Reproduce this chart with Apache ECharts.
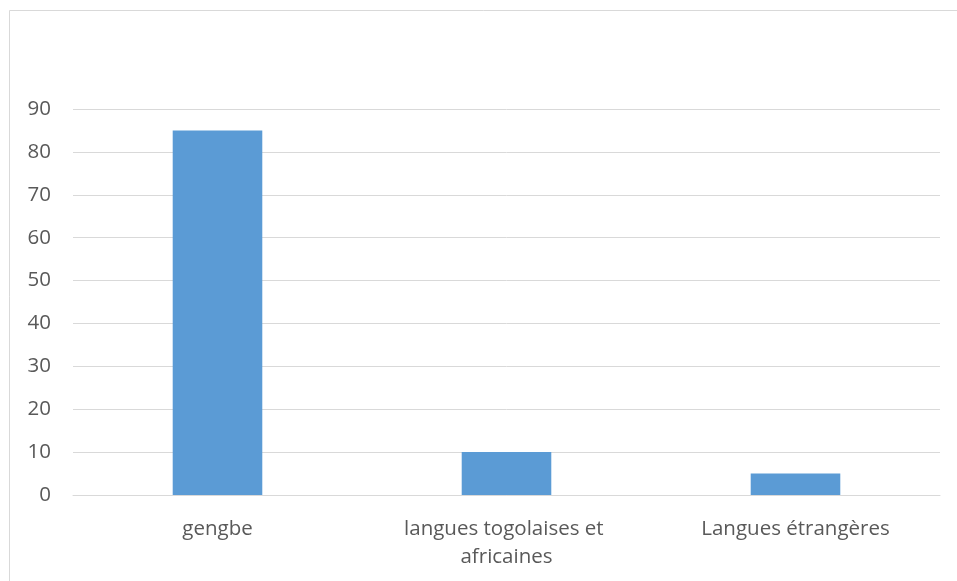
<!DOCTYPE html>
<html>
<head>
<meta charset="utf-8">
<script src="https://cdn.jsdelivr.net/npm/echarts@6/dist/echarts.min.js"></script>
<style>
  html, body { margin: 0; padding: 0; background: #fff; }
  #chart { width: 957px; height: 581px; }
</style>
</head>
<body>
<div id="chart"></div>
<script>
// Language categories and their share (%)
const categories = ['gengbe', 'langues togolaises et africaines', 'Langues étrangères'];
const values = [85, 10, 5];
const yTicks = { min: 0, max: 90, interval: 10 };

const textColor = '#595959';
const gridColor = '#d9d9d9';
const fontFamily = '"Open Sans", sans-serif';

const chart = echarts.init(document.getElementById('chart'), null, { renderer: 'canvas' });

chart.setOption({
  animation: false,
  backgroundColor: '#ffffff',
  graphic: [{
    type: 'rect',
    shape: { x: 9.5, y: 10.5, width: 1000, height: 700 },
    style: { fill: 'none', stroke: gridColor, lineWidth: 1 },
    silent: true
  }],
  grid: { left: 73, right: 17, top: 109, bottom: 86, containLabel: false },
  xAxis: {
    type: 'category',
    data: categories,
    axisLine: { show: true, lineStyle: { color: gridColor, width: 1 } },
    axisTick: { show: false },
    axisLabel: {
      color: textColor,
      fontFamily: fontFamily,
      fontSize: 20.5,
      lineHeight: 28,
      margin: 20,
      interval: 0,
      width: 250,
      overflow: 'break'
    }
  },
  yAxis: {
    type: 'value',
    min: yTicks.min,
    max: yTicks.max,
    interval: yTicks.interval,
    axisLine: { show: false },
    axisTick: { show: false },
    splitLine: { lineStyle: { color: gridColor, width: 1 } },
    axisLabel: {
      color: textColor,
      fontFamily: fontFamily,
      fontSize: 20.5,
      margin: 22
    }
  },
  series: [{
    type: 'bar',
    data: values,
    barWidth: '31%',
    itemStyle: { color: '#5b9bd5' }
  }]
});
</script>
</body>
</html>
